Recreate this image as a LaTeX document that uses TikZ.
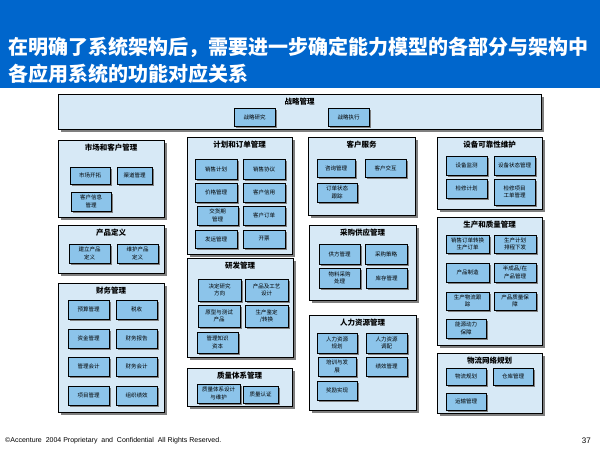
\documentclass[tikz,border=0pt]{standalone}
\usepackage{fontspec}
\setmainfont{Liberation Sans}
\newfontfamily\cjk{Noto Sans CJK SC}
\usetikzlibrary{positioning,shadows}
\definecolor{titleblue}{HTML}{0066CC}
\definecolor{groupfill}{HTML}{D7E9F6}
\definecolor{funcfill}{HTML}{8CC4EA}
\definecolor{shadowgray}{HTML}{7F7F7F}

\begin{document}
\begin{tikzpicture}[x=1pt,y=-1pt,
  groupbox/.style={draw=black,fill=groupfill,line width=0.9pt,anchor=north west,inner sep=0pt,outer sep=0pt,
    drop shadow={shadow xshift=3pt,shadow yshift=-3pt,fill=shadowgray,opacity=1}},
  funcbox/.style={draw=black,fill=funcfill,line width=0.9pt,anchor=north west,inner sep=0pt,outer sep=0pt,
    minimum width=41pt,minimum height=19pt,align=center,font=\cjk\fontsize{5.5}{7.5}\selectfont,
    drop shadow={shadow xshift=1.5pt,shadow yshift=-1.5pt,fill=shadowgray,opacity=1}},
  grouplabel/.style={font=\cjk\bfseries\fontsize{7.5}{9}\selectfont,inner sep=0pt}]
  \useasboundingbox (0,0) rectangle (600,450);
  \fill[white] (0,0) rectangle (600,450);
  \fill[titleblue] (0,0) rectangle (600,88);
  \node[anchor=north west,text=white,inner sep=0pt,align=left,
    font=\cjk\bfseries\fontsize{20}{27}\selectfont] (title) at (8,37)
    {在明确了系统架构后，需要进一步确定能力模型的各部分与架构中\\各应用系统的功能对应关系};

  % strategy
  \node[groupbox,minimum width=483pt,minimum height=35pt] (strategy) at (58,94) {};
  \node[grouplabel,below=4pt of strategy.north] (strategytitle) {战略管理};
  \node[funcbox,minimum height=18pt] (research) at (234,108) {战略研究};
  \node[funcbox,minimum height=18pt] (execution) at (328,108) {战略执行};

  % column 1
  \node[groupbox,minimum width=106pt,minimum height=77pt] (market) at (58,140) {};
  \node[grouplabel,below=4pt of market.north] (markettitle) {市场和客户管理};
  \node[funcbox,minimum width=40pt,minimum height=17pt] (develop) at (70,167) {市场开拓};
  \node[funcbox,minimum width=35pt,minimum height=17pt] (channel) at (117,167) {渠道管理};
  \node[funcbox,minimum width=40pt] (custinfo) at (71,192) {客户信息\\管理};

  \node[groupbox,minimum width=106pt,minimum height=48pt] (product) at (58,225) {};
  \node[grouplabel,below=4pt of product.north] (producttitle) {产品定义};
  \node[funcbox] (define) at (69,244) {建立产品\\定义};
  \node[funcbox] (maintain) at (117,244) {维护产品\\定义};

  \node[groupbox,minimum width=106pt,minimum height=129pt] (finance) at (58,283) {};
  \node[grouplabel,below=4pt of finance.north] (financetitle) {财务管理};
  \node[funcbox] (budget) at (68,300) {预算管理};
  \node[funcbox] (tax) at (116,300) {税收};
  \node[funcbox] (fund) at (68,329) {资金管理};
  \node[funcbox] (report) at (116,329) {财务报告};
  \node[funcbox] (mgmtacc) at (68,357) {管理会计};
  \node[funcbox] (finacc) at (116,357) {财务会计};
  \node[funcbox] (project) at (68,386) {项目管理};
  \node[funcbox] (orgperf) at (116,386) {组织绩效};

  % column 2
  \node[groupbox,minimum width=105pt,minimum height=117pt] (plan) at (187,137) {};
  \node[grouplabel,below=4pt of plan.north] (plantitle) {计划和订单管理};
  \node[funcbox,minimum width=42pt,minimum height=20pt] (salesplan) at (195,159) {销售计划};
  \node[funcbox,minimum width=42pt,minimum height=20pt] (agreement) at (243,159) {销售协议};
  \node[funcbox,minimum width=42pt] (price) at (195,183) {价格管理};
  \node[funcbox,minimum width=42pt] (credit) at (243,183) {客户信用};
  \node[funcbox] (delivery) at (197,206) {交货期\\管理};
  \node[funcbox,minimum width=42pt] (custorder) at (243,206) {客户订单};
  \node[funcbox,minimum width=42pt,minimum height=18pt] (shipping) at (195,230) {发运管理};
  \node[funcbox,minimum width=42pt,minimum height=18pt] (invoice) at (243,230) {开票};

  \node[groupbox,minimum width=106pt,minimum height=99pt] (rnd) at (187,258) {};
  \node[grouplabel,below=4pt of rnd.north] (rndtitle) {研发管理};
  \node[funcbox,minimum width=43pt,minimum height=22pt] (direction) at (198,279) {决定研究\\方向};
  \node[funcbox,minimum width=43pt,minimum height=22pt] (design) at (245,279) {产品及工艺\\设计};
  \node[funcbox,minimum width=42pt,minimum height=22pt] (prototype) at (198,305) {原型与测试\\产品};
  \node[funcbox,minimum width=43pt,minimum height=22pt] (transfer) at (245,305) {生产鉴定\\/转换};
  \node[funcbox,minimum height=21pt] (knowledge) at (197,332) {管理知识\\资本};

  \node[groupbox,minimum width=105pt,minimum height=38pt] (quality) at (187,368) {};
  \node[grouplabel,below=4pt of quality.north] (qualitytitle) {质量体系管理};
  \node[funcbox,minimum width=43pt,minimum height=19pt] (qsystem) at (197,384) {质量体系设计\\与维护};
  \node[funcbox,minimum width=35pt,minimum height=17pt] (certify) at (243,386) {质量认证};

  % column 3
  \node[groupbox,minimum width=107pt,minimum height=78pt] (service) at (308,137) {};
  \node[grouplabel,below=4pt of service.north] (servicetitle) {客户服务};
  \node[funcbox,minimum width=38pt,minimum height=18pt] (inquiry) at (317,159) {咨询管理};
  \node[funcbox,minimum height=18pt] (interact) at (365,159) {客户交互};
  \node[funcbox,minimum width=40pt] (tracking) at (317,183) {订单状态\\跟踪};

  \node[groupbox,minimum width=107pt,minimum height=75pt] (purchase) at (309,225) {};
  \node[grouplabel,below=4pt of purchase.north] (purchasetitle) {采购供应管理};
  \node[funcbox,minimum height=20pt] (supplier) at (319,244) {供方管理};
  \node[funcbox,minimum width=42pt,minimum height=20pt] (strategybuy) at (365,244) {采购策略};
  \node[funcbox,minimum height=20pt] (material) at (319,268) {物料采购\\处理};
  \node[funcbox,minimum height=20pt] (stock) at (366,268) {库存管理};

  \node[groupbox,minimum width=107pt,minimum height=95pt] (hr) at (309,315) {};
  \node[grouplabel,below=4pt of hr.north] (hrtitle) {人力资源管理};
  \node[funcbox,minimum width=40pt,minimum height=20pt] (hrplan) at (317,333) {人力资源\\规划};
  \node[funcbox,minimum height=20pt] (hrdeploy) at (366,333) {人力资源\\调配};
  \node[funcbox,minimum width=38pt] (training) at (318,357) {培训与发\\展};
  \node[funcbox] (perf) at (366,357) {绩效管理};
  \node[funcbox,minimum width=40pt] (reward) at (317,381) {奖励实现};

  % column 4
  \node[groupbox,minimum width=105pt,minimum height=72pt] (equip) at (437,137) {};
  \node[grouplabel,below=4pt of equip.north] (equiptitle) {设备可靠性维护};
  \node[funcbox] (monitor) at (446,156) {设备监测};
  \node[funcbox] (status) at (494,156) {设备状态管理};
  \node[funcbox] (overhaul) at (446,179) {检修计划};
  \node[funcbox,minimum height=26pt] (workorder) at (494,179) {检修项目\\工单管理};

  \node[groupbox,minimum width=105pt,minimum height=128pt] (production) at (437,217) {};
  \node[grouplabel,below=4pt of production.north] (productiontitle) {生产和质量管理};
  \node[funcbox,minimum width=43pt,minimum height=18pt] (convert) at (446,235) {销售订单转换\\生产订单};
  \node[funcbox,minimum width=42pt,minimum height=18pt] (schedule) at (494,235) {生产计划\\排程下发};
  \node[funcbox,minimum width=43pt] (manufacture) at (446,263) {产品制造};
  \node[funcbox,minimum width=42pt] (wip) at (494,263) {半成品/在\\产品管理};
  \node[funcbox,minimum width=43pt,minimum height=18pt] (logtrack) at (446,292) {生产物流跟\\踪};
  \node[funcbox,minimum width=42pt,minimum height=18pt] (assurance) at (494,292) {产品质量保\\障};
  \node[funcbox,minimum width=40pt] (energy) at (446,319) {能源动力\\保障};

  \node[groupbox,minimum width=105pt,minimum height=60pt] (network) at (437,353) {};
  \node[grouplabel,below=4pt of network.north] (networktitle) {物流网络规划};
  \node[funcbox,minimum width=40pt,minimum height=17pt] (logplan) at (446,368) {物流规划};
  \node[funcbox,minimum width=40pt,minimum height=17pt] (warehouse) at (493,368) {仓库管理};
  \node[funcbox,minimum width=40pt,minimum height=17pt] (transport) at (446,393) {运输管理};

  % footer
  \node[anchor=west,inner sep=0pt,font=\fontsize{7}{8}\selectfont] (copyright) at (5,441)
    {©Accenture\ \ 2004 Proprietary\ \ and\ \ Confidential\ \ All Rights Reserved.};
  \node[anchor=east,inner sep=0pt,font=\fontsize{8}{9}\selectfont] (pagenum) at (591,441) {37};
\end{tikzpicture}
\end{document}
